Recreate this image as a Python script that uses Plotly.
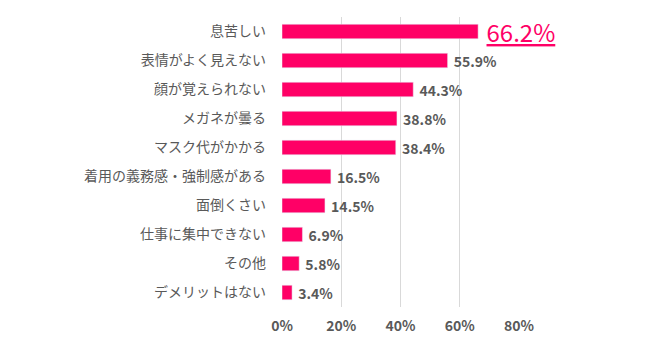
import plotly.graph_objects as go

categories = ["息苦しい", "表情がよく見えない", "顔が覚えられない", "メガネが曇る", "マスク代がかかる",
              "着用の義務感・強制感がある", "面倒くさい", "仕事に集中できない", "その他", "デメリットはない"]
values = [66.2, 55.9, 44.3, 38.8, 38.4, 16.5, 14.5, 6.9, 5.8, 3.4]
tick_vals = [0, 20, 40, 60, 80]
tick_text = ["0%", "20%", "40%", "60%", "80%"]

labels = ["\u00a0" + f"<u>{v:.1f}%</u>" if i == 0 else "\u00a0" + f"<b>{v:.1f}%</b>" for i, v in enumerate(values)]
sizes = [24 if i == 0 else 14 for i in range(len(values))]
colors = ["#ff0066" if i == 0 else "#595959" for i in range(len(values))]

fig = go.Figure(go.Bar(
    x=values, y=categories, orientation="h",
    marker=dict(color="#ff0066"),
    text=labels, textposition="outside", cliponaxis=False, constraintext="none",
    textfont=dict(size=sizes, color=colors, family="Noto Sans CJK JP"),
))
fig.update_layout(
    width=650, height=351,
    margin=dict(l=282, r=131, t=17, b=44),
    paper_bgcolor="white", plot_bgcolor="white",
    bargap=0.5, showlegend=False,
    font=dict(family="Noto Sans CJK JP", color="#595959", size=14),
    xaxis=dict(range=[0, 80], tickvals=tick_vals, ticktext=[f"<b>{t}</b>" for t in tick_text],
               showgrid=True, gridcolor="#d9d9d9", gridwidth=1, zeroline=False,
               showline=False, ticks="", tickfont=dict(size=14, color="#595959"),
               ticklabelstandoff=9, fixedrange=True),
    yaxis=dict(autorange="reversed", showline=False, ticks="", ticklen=0,
               tickfont=dict(size=14, color="#595959"), ticklabelstandoff=15,
               fixedrange=True),
)
fig.write_html("out.html")
